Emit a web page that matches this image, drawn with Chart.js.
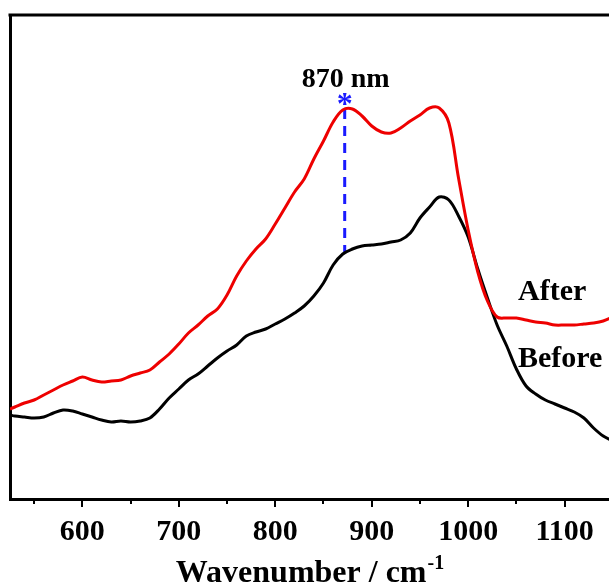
<!DOCTYPE html>
<html>
<head>
<meta charset="utf-8">
<script src="https://cdn.jsdelivr.net/npm/chart.js@4.4.1/dist/chart.umd.min.js"></script>
<style>
  html, body { margin: 0; padding: 0; background: #fff; }
</style>
</head>
<body>
<canvas id="myChart" width="609" height="586"></canvas>
<script>
// values (intensity in arbitrary units)
const wavenumbers = [525, 530, 540, 550, 560, 570, 580, 590, 600, 610, 620, 630, 640, 650, 660, 670, 680, 690,
  700, 710, 720, 730, 740, 750, 760, 770, 780, 790, 800, 810, 820, 830, 840, 850, 860, 870, 880, 890,
  900, 910, 920, 930, 940, 950, 960, 970, 980, 990, 1000, 1010, 1020, 1030, 1040, 1050, 1060, 1070,
  1080, 1090, 1100, 1110, 1120, 1130, 1140, 1150];

const afterVals = [90, 92, 96, 99, 104, 109, 114, 118, 122, 119, 117, 118, 119, 123, 126, 129, 137, 145,
  155, 166, 174, 183, 190, 204, 223, 238, 250, 260, 275, 291, 307, 320, 340, 358, 377, 389, 390, 383,
  373, 367, 366, 371, 378, 384, 391, 391, 376, 321, 269, 227, 198, 182, 181, 181, 179, 177,
  176, 174, 174, 174, 175, 176, 178, 182];

const beforeVals = [84, 83, 82, 81, 82, 86, 89, 88, 85, 82, 79, 77, 78, 77, 78, 81, 90, 101,
  110, 119, 125, 133, 141, 148, 154, 163, 167, 170, 175, 180, 186, 193, 203, 216, 234, 245, 250, 253,
  254, 255, 257, 259, 266, 281, 292, 302, 299, 283, 262, 230, 201, 174, 153, 130, 113, 105,
  99, 95, 91, 87, 81, 71, 63, 58];

const majorTicks = [600, 700, 800, 900, 1000, 1100];
const minorTicks = [550, 650, 750, 850, 950, 1050];

const peakPos = 872;
const peakLine = [390, 247];   // dashed marker from the After peak down to Before
const peakLabel = '870 nm';

const seriesNames = ['After', 'Before'];

const serif = '"Liberation Serif", "Times New Roman", serif';

function toPoints(xs, ys) {
  return xs.map((x, i) => ({ x: x, y: ys[i] }));
}

const extras = {
  id: 'extras',
  afterDraw(chart) {
    const ctx = chart.ctx;
    const area = chart.chartArea;
    const xs = chart.scales.x;
    const ys = chart.scales.y;
    ctx.save();

    // top frame line
    ctx.strokeStyle = '#000';
    ctx.lineWidth = 3;
    ctx.beginPath();
    ctx.moveTo(area.left - 1.5, area.top);
    ctx.lineTo(area.right, area.top);
    ctx.stroke();

    // tick marks, outside
    ctx.lineWidth = 2;
    majorTicks.forEach(v => {
      const px = Math.round(xs.getPixelForValue(v));
      ctx.beginPath();
      ctx.moveTo(px, area.bottom);
      ctx.lineTo(px, area.bottom + 8);
      ctx.stroke();
    });
    minorTicks.forEach(v => {
      const px = Math.round(xs.getPixelForValue(v));
      ctx.beginPath();
      ctx.moveTo(px, area.bottom);
      ctx.lineTo(px, area.bottom + 5);
      ctx.stroke();
    });

    // peak annotation
    const peakX = xs.getPixelForValue(peakPos);
    ctx.fillStyle = '#000';
    ctx.textAlign = 'center';
    ctx.textBaseline = 'alphabetic';
    ctx.font = 'bold 28px ' + serif;
    ctx.fillText(peakLabel, peakX + 1, area.top + 72);
    ctx.fillStyle = '#1a1aff';
    ctx.font = 'bold 32px ' + serif;
    ctx.fillText('*', peakX, ys.getPixelForValue(peakLine[0]) + 5);

    // series labels
    ctx.fillStyle = '#000';
    ctx.textAlign = 'left';
    ctx.font = 'bold 30px ' + serif;
    ctx.fillText(seriesNames[0], 518, 300);
    ctx.fillText(seriesNames[1], 518, 367);

    // axis title with superscript
    const main = 'Wavenumber / cm';
    const sup = '-1';
    ctx.font = 'bold 32px ' + serif;
    const w1 = ctx.measureText(main).width;
    ctx.font = 'bold 20px ' + serif;
    const w2 = ctx.measureText(sup).width;
    const cx = (area.left + chart.width) / 2;
    const startX = cx - (w1 + w2) / 2;
    ctx.font = 'bold 32px ' + serif;
    ctx.fillText(main, startX, 582);
    ctx.font = 'bold 20px ' + serif;
    ctx.fillText(sup, startX + w1 + 1, 569);

    ctx.restore();
  }
};

const ctx = document.getElementById('myChart');
new Chart(ctx, {
  type: 'line',
  data: {
    datasets: [
      {
        label: seriesNames[0],
        data: toPoints(wavenumbers, afterVals),
        borderColor: '#ee0000',
        borderWidth: 3,
        pointRadius: 0,
        tension: 0.35
      },
      {
        label: seriesNames[1],
        data: toPoints(wavenumbers, beforeVals),
        borderColor: '#000000',
        borderWidth: 3,
        pointRadius: 0,
        tension: 0.35
      },
      {
        label: 'peak',
        data: toPoints([peakPos, peakPos], peakLine),
        borderColor: '#1a1aff',
        borderWidth: 3,
        borderDash: [10, 7],
        pointRadius: 0
      }
    ]
  },
  options: {
    responsive: false,
    animation: false,
    devicePixelRatio: 1,
    layout: { padding: { left: 2, top: 15, right: 0, bottom: 29 } },
    plugins: {
      legend: { display: false },
      tooltip: { enabled: false }
    },
    scales: {
      x: {
        type: 'linear',
        min: 525,
        max: 1146,
        afterBuildTicks: scale => {
          scale.ticks = majorTicks.map(v => ({ value: v }));
        },
        grid: { display: false },
        border: { display: true, color: '#000', width: 3 },
        ticks: {
          color: '#000',
          padding: 7,
          maxRotation: 0,
          callback: v => String(v),
          font: { family: serif, size: 30, weight: 'bold' }
        }
      },
      y: {
        min: 0,
        max: 484,
        grid: { display: false },
        border: { display: true, color: '#000', width: 3 },
        ticks: { display: false }
      }
    }
  },
  plugins: [extras]
});
</script>
</body>
</html>
